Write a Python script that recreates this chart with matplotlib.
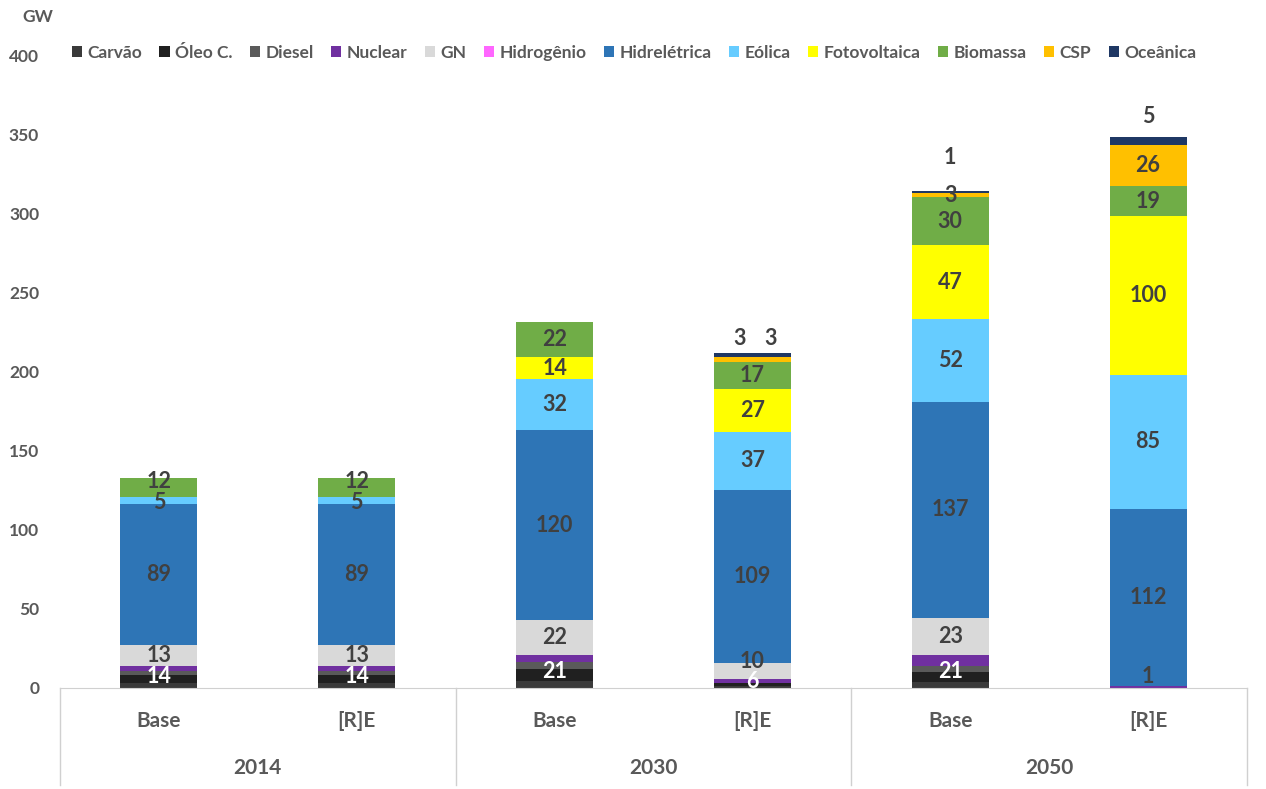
import matplotlib
matplotlib.use('Agg')
import matplotlib.pyplot as plt
import matplotlib.transforms as mtransforms
from matplotlib.patches import Patch
import numpy as np

plt.rcParams['font.family'] = ['Lato', 'DejaVu Sans']
plt.rcParams['font.weight'] = 'bold'

scenarios = ['Base', '[R]E', 'Base', '[R]E', 'Base', '[R]E']
years = ['2014', '2030', '2050']

series = ['Carvão', 'Óleo C.', 'Diesel', 'Nuclear', 'GN', 'Hidrogênio',
          'Hidrelétrica', 'Eólica', 'Fotovoltaica', 'Biomassa', 'CSP', 'Oceânica']
colors = ['#3a3a3a', '#202020', '#5a5a5a', '#7030a0', '#d9d9d9', '#ff66ff',
          '#2e75b6', '#66ccff', '#ffff00', '#70ad47', '#ffc000', '#1f3864']

carvao = [3, 3, 4.4, 1, 4, 0]
oleo = [5, 5, 7.6, 2, 6, 0]
diesel = [3, 3, 4.6, 0, 4, 0]
nuclear = [3, 3, 4.4, 3, 7, 1]
gn = [13, 13, 22, 10, 23, 0]
hidrogenio = [0, 0, 0, 0, 0, 0]
hidro = [89, 89, 120, 109, 137, 112]
eolica = [5, 5, 32, 37, 52, 85]
foto = [0, 0, 14, 27, 47, 100]
biomassa = [12, 12, 22, 17, 30, 19]
csp = [0, 0, 0, 3, 3, 26]
oceanica = [0, 0, 0, 3, 1, 5]

data = [carvao, oleo, diesel, nuclear, gn, hidrogenio, hidro, eolica, foto,
        biomassa, csp, oceanica]

# series whose values are written inside the bars
labelled = ['GN', 'Hidrelétrica', 'Eólica', 'Fotovoltaica', 'Biomassa', 'CSP', 'Oceânica']
fossil_colors = ['white', 'white', 'white', 'white', 'white', '#404040']

fig = plt.figure(figsize=(12.66, 7.89), dpi=100)
ax = fig.add_axes([60 / 1266, 101 / 789, 1187 / 1266, 633 / 789])

x = np.arange(len(scenarios))
width = 0.39
bottom = np.zeros(len(scenarios))
bottoms = {}
for name, vals, c in zip(series, data, colors):
    vals = np.array(vals, dtype=float)
    ax.bar(x, vals, width, bottom=bottom, color=c, label=name, zorder=2)
    bottoms[name] = bottom.copy()
    bottom = bottom + vals
totals = bottom

lab_color = '#404040'
lab_fs = 15.5

# fossil + nuclear sum label
fossil = np.array(carvao) + np.array(oleo) + np.array(diesel) + np.array(nuclear)
fossil_min_y = [6.5, 6.5, 6.5, 4.0, 6.5, 7.0]
for i in range(len(x)):
    ax.text(x[i], max(fossil[i] / 2, fossil_min_y[i]), '%d' % round(fossil[i]),
            ha='center', va='center', color=fossil_colors[i], fontsize=lab_fs,
            zorder=4)

# labels placed above the bar for the thin top segments (offsets in px)
above = {(3, 'CSP'): (-13, 14), (3, 'Oceânica'): (18, 14),
         (4, 'Oceânica'): (0, 34), (5, 'Oceânica'): (0, 21)}
# small nudges of in-bar labels (px, upwards)
nudge = {(3, 'GN'): 9, (0, 'Biomassa'): 6, (1, 'Biomassa'): 6,
         (0, 'Eólica'): -2, (1, 'Eólica'): -2}

for name in labelled:
    vals = data[series.index(name)]
    for i in range(len(x)):
        v = vals[i]
        if v <= 0:
            continue
        if (i, name) in above:
            dx, dy = above[(i, name)]
            ax.annotate('%d' % round(v), (x[i], totals[i]), xytext=(dx * 0.72, dy * 0.72),
                        textcoords='offset points', ha='center', va='center',
                        color=lab_color, fontsize=lab_fs)
        else:
            yc = bottoms[name][i] + v / 2
            dy = nudge.get((i, name), 0)
            ax.annotate('%d' % round(v), (x[i], yc), xytext=(0, dy * 0.72),
                        textcoords='offset points', ha='center', va='center',
                        color=lab_color, fontsize=lab_fs)

ax.set_xlim(-0.5, 5.5)
ax.set_ylim(0, 400)
ax.set_yticks(np.arange(0, 401, 50))
ax.tick_params(axis='y', length=0, pad=15, labelsize=12.5, labelcolor='#595959')
ax.set_xticks([])
for s in ['top', 'right', 'left']:
    ax.spines[s].set_visible(False)
ax.spines['bottom'].set_color('#d0d0d0')

# two-level category axis
trans = mtransforms.blended_transform_factory(ax.transData, ax.transAxes)
for i, s in enumerate(scenarios):
    ax.text(x[i], -33 / 633, s, transform=trans, ha='center', va='center',
            fontsize=15, color='#595959')
for j, yr in enumerate(years):
    ax.text(2 * j + 0.5, -80 / 633, yr, transform=trans, ha='center', va='center',
            fontsize=15, color='#595959')
for xs in [-0.5, 1.5, 3.5, 5.5]:
    ax.plot([xs, xs], [0, -97 / 633], transform=trans, color='#d0d0d0',
            lw=1, clip_on=False)

fig.text(22 / 1266, 1 - 17 / 789, 'GW', ha='left', va='center', fontsize=12.5,
         color='#595959')

handles = [Patch(facecolor=c, edgecolor='none') for c in colors]
fig.legend(handles, series, loc='center', ncol=len(series),
           bbox_to_anchor=(634 / 1266, 1 - 53 / 789), frameon=False,
           fontsize=12.5, handlelength=0.6, handleheight=0.6, handletextpad=0.3,
           columnspacing=1.0, labelcolor='#595959')

fig.savefig('out.png', dpi=100)
